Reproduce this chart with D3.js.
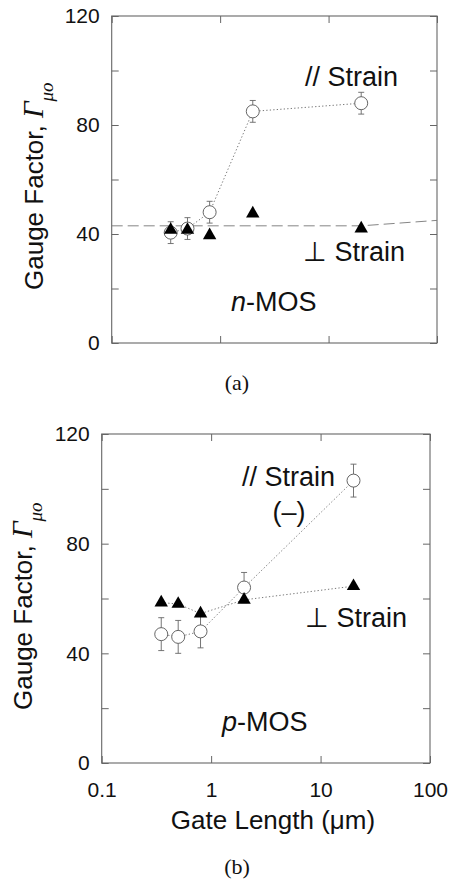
<!DOCTYPE html>
<html>
<head>
<meta charset="utf-8">
<script src="https://cdn.jsdelivr.net/npm/d3@7"></script>
<style>
  body { margin: 0; background: #fff; }
</style>
</head>
<body>
<svg id="chart" width="450" height="884" font-family="Liberation Sans, Arial, sans-serif" fill="#111"></svg>
<script>
// gate lengths (um), shared by both devices
var gateLength = [0.35, 0.5, 0.8, 2, 20];

// n-MOS gauge factors
var nParallel = [40.5, 42, 48, 85, 88];
var nParallelErr = [4, 4, 4, 4, 4];
var nPerp = [41.5, 41.5, 39.5, 47.5, 42];
// fitted guide through the perpendicular points
var nGuideX = [0.1, 20, 100];
var nGuideY = [43, 43, 45];

// p-MOS gauge factors
var pParallel = [47, 46, 48, 64, 103];
var pParallelErr = [6, 6, 6, 5.5, 6];
var pPerp = [58.5, 58, 54.5, 59.5, 64.5];

var xTicks = [0.1, 1, 10, 100];
var yTicks = [0, 20, 40, 60, 80, 100, 120];
var yLabels = [0, 40, 80, 120];

var svg = d3.select("#chart");

function drawPanel(p) {
  var x = d3.scaleLog().domain([0.1, 100]).range([p.left, p.right]),
      y = d3.scaleLinear().domain([0, 120]).range([p.bottom, p.top]);

  var g = svg.append("g");

  // frame
  g.append("rect")
      .attr("x", p.left).attr("y", p.top)
      .attr("width", p.right - p.left).attr("height", p.bottom - p.top)
      .attr("fill", "none").attr("stroke", "#666").attr("stroke-width", 1.1);

  var axes = [
    [d3.axisLeft(y).tickValues(yTicks).tickSize(-7).tickPadding(12)
        .tickFormat(function(d) { return yLabels.indexOf(d) >= 0 ? d : ""; }), "translate(" + p.left + ",0)"],
    [d3.axisRight(y).tickValues(yTicks).tickSize(-7).tickFormat(""), "translate(" + p.right + ",0)"],
    [d3.axisTop(x).tickValues(xTicks).tickSize(-7).tickFormat(""), "translate(0," + p.top + ")"],
    [d3.axisBottom(x).tickValues(xTicks).tickSize(-7).tickPadding(19)
        .tickFormat(p.xLabels ? function(d) { return String(d); } : ""), "translate(0," + p.bottom + ")"]
  ];
  axes.forEach(function(a) {
    var ax = g.append("g").attr("transform", a[1]).call(a[0])
        .attr("font-size", 21).attr("font-family", "Liberation Sans, Arial, sans-serif");
    ax.select(".domain").remove();
    ax.selectAll("line").attr("stroke", "#666");
    ax.selectAll("text").attr("fill", "#111");
  });

  var line = d3.line()
      .x(function(d) { return x(d[0]); })
      .y(function(d) { return y(d[1]); });

  if (p.guideX) {
    g.append("path")
        .datum(d3.zip(p.guideX, p.guideY))
        .attr("d", line)
        .attr("fill", "none").attr("stroke", "#777").attr("stroke-width", 0.9)
        .attr("stroke-dasharray", "11,5");
  }

  var par = d3.zip(gateLength, p.parallel, p.parallelErr),
      perp = d3.zip(gateLength, p.perp);

  g.append("path")
      .datum(par)
      .attr("d", line)
      .attr("fill", "none").attr("stroke", "#777").attr("stroke-width", 1)
      .attr("stroke-dasharray", "1.3,2.2");

  if (p.joinPerp) {
    g.append("path")
        .datum(perp)
        .attr("d", line)
        .attr("fill", "none").attr("stroke", "#777").attr("stroke-width", 1)
        .attr("stroke-dasharray", "1.3,2.2");
  }

  // error bars on the parallel-strain points
  var eb = g.selectAll(".err").data(par).enter().append("g").attr("class", "err")
      .attr("stroke", "#666").attr("stroke-width", 0.9);
  eb.append("line")
      .attr("x1", function(d) { return x(d[0]); }).attr("x2", function(d) { return x(d[0]); })
      .attr("y1", function(d) { return y(d[1] + d[2]); }).attr("y2", function(d) { return y(d[1] - d[2]); });
  eb.append("line")
      .attr("x1", function(d) { return x(d[0]) - 3; }).attr("x2", function(d) { return x(d[0]) + 3; })
      .attr("y1", function(d) { return y(d[1] + d[2]); }).attr("y2", function(d) { return y(d[1] + d[2]); });
  eb.append("line")
      .attr("x1", function(d) { return x(d[0]) - 3; }).attr("x2", function(d) { return x(d[0]) + 3; })
      .attr("y1", function(d) { return y(d[1] - d[2]); }).attr("y2", function(d) { return y(d[1] - d[2]); });

  g.selectAll(".open").data(par).enter().append("circle")
      .attr("cx", function(d) { return x(d[0]); })
      .attr("cy", function(d) { return y(d[1]); })
      .attr("r", 6.5)
      .attr("fill", "#fff").attr("stroke", "#555").attr("stroke-width", 0.9);

  var tri = d3.symbol().type(d3.symbolTriangle).size(78);
  g.selectAll(".tri").data(perp).enter().append("path")
      .attr("d", tri)
      .attr("transform", function(d) { return "translate(" + x(d[0]) + "," + y(d[1]) + ")"; })
      .attr("fill", "#000");

  // y axis title
  var t = svg.append("text")
      .attr("transform", "translate(" + p.titleX + "," + p.titleY + ") rotate(-90)")
      .attr("font-size", 26);
  t.append("tspan").text("Gauge Factor, ");
  t.append("tspan").text("\u0393").attr("font-family", "Liberation Serif, serif")
      .attr("font-style", "italic").attr("font-size", 29);
  t.append("tspan").text("\u03bco").attr("font-family", "Liberation Serif, serif")
      .attr("font-style", "italic").attr("font-size", 19).attr("dy", 10);

  p.notes.forEach(function(n) {
    var txt = svg.append("text").attr("x", n.x).attr("y", n.y).attr("font-size", 27)
        .attr("text-anchor", n.anchor || "start");
    if (n.italic) txt.append("tspan").attr("font-style", "italic").text(n.italic);
    txt.append("tspan").text(n.text);
  });

  svg.append("text")
      .attr("x", p.capX).attr("y", p.capY)
      .attr("text-anchor", "middle")
      .attr("font-family", "Liberation Serif, serif")
      .attr("font-size", 22)
      .text(p.caption);

  if (p.xLabels) {
    svg.append("text")
        .attr("x", 273).attr("y", 829)
        .attr("text-anchor", "middle")
        .attr("font-size", 26)
        .text("Gate Length (\u03bcm)");
  }
}

drawPanel({
  left: 111.7, right: 437, top: 16, bottom: 343,
  parallel: nParallel, parallelErr: nParallelErr, perp: nPerp,
  guideX: nGuideX, guideY: nGuideY, joinPerp: false, xLabels: false,
  titleX: 43, titleY: 290,
  notes: [
    {x: 305, y: 86, text: "// Strain"},
    {x: 303, y: 261, text: "\u22a5 Strain"},
    {x: 231, y: 311, italic: "n", text: "-MOS"}
  ],
  caption: "(a)", capX: 237, capY: 390
});

drawPanel({
  left: 101.7, right: 430, top: 434, bottom: 763,
  parallel: pParallel, parallelErr: pParallelErr, perp: pPerp,
  joinPerp: true, xLabels: true,
  titleX: 32, titleY: 710,
  notes: [
    {x: 242, y: 486, text: "// Strain"},
    {x: 289, y: 521, text: "(\u2013)", anchor: "middle"},
    {x: 305, y: 627, text: "\u22a5 Strain"},
    {x: 222, y: 731, italic: "p", text: "-MOS"}
  ],
  caption: "(b)", capX: 237, capY: 874
});
</script>
</body>
</html>
